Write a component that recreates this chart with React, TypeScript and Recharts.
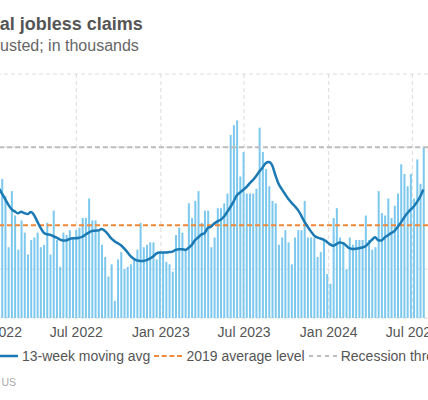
import { ComposedChart, Bar, Line, XAxis, YAxis, CartesianGrid, ReferenceLine } from 'recharts';

const WEEK = 7 * 24 * 60 * 60 * 1000;
const FIRST_WEEK = Date.UTC(2022, 0, 13);

// weekly initial claims, thousands
const weeklyClaims = [
  245, 237, 230, 209, 232, 222, 208, 220, 215, 206,
  212, 213, 215, 209, 210, 219, 206, 224, 212, 201,
  215, 214, 216, 213, 216, 217, 221, 221, 229, 220,
  220, 216, 210, 205, 197, 202, 187, 204, 207, 200,
  201, 202, 204, 208, 219, 209, 210, 211, 211, 204,
  207, 207, 203, 202, 199, 214, 217, 215, 208, 227,
  221, 228, 232, 219, 224, 224, 209, 213, 225, 225,
  227, 231, 255, 259, 261, 238, 248, 231, 231, 231,
  233, 258, 248, 241, 234, 228, 227, 210, 213, 216,
  211, 202, 213, 216, 216, 228, 213, 213, 213, 205,
  207, 212, 198, 194, 221, 225, 213, 211, 200, 213,
  210, 212, 212, 212, 222, 212, 208, 209, 232, 223,
  222, 229, 221, 226, 231, 243, 239, 234, 239, 229,
  245, 235, 250,
];

// 13-week moving average
const movingAvg = [
  233.3, 231.1, 228.8, 226.5, 224.6, 223.7, 222.9, 223.5, 223.0, 222.6,
  223.4, 222.2, 219.6, 217.0, 215.0, 214.3, 214.1, 213.5, 212.9, 212.2,
  211.8, 211.8, 212.4, 212.7, 212.7, 212.9, 213.3, 214.2, 215.0, 215.7,
  215.8, 215.9, 216.5, 215.7, 214.3, 212.6, 211.5, 210.7, 209.8, 208.5,
  207.0, 205.4, 204.3, 203.6, 203.4, 203.4, 203.7, 204.4, 205.2, 206.4,
  206.8, 206.8, 206.8, 207.0, 207.2, 207.9, 208.2, 208.2, 207.9, 208.7,
  209.9, 211.8, 213.0, 214.2, 214.8, 216.9, 217.4, 218.7, 219.6, 220.3,
  221.5, 223.4, 225.4, 227.7, 230.2, 231.4, 232.5, 233.6, 235.2, 236.5,
  238.1, 240.0, 241.6, 243.4, 243.9, 242.6, 238.6, 235.0, 232.8, 230.8,
  228.9, 227.3, 225.9, 224.3, 222.1, 219.6, 217.5, 215.6, 213.9, 213.0,
  212.6, 212.1, 211.2, 210.2, 209.6, 210.3, 210.9, 210.7, 209.7, 208.6,
  208.3, 208.4, 208.6, 208.9, 209.4, 210.7, 212.0, 213.1, 211.9, 211.8,
  213.0, 213.9, 214.8, 215.6, 217.3, 219.1, 221.1, 222.9, 224.4, 225.7,
  227.5, 229.7, 232.7,
];

const tickDates = [
  Date.UTC(2022, 0, 1),
  Date.UTC(2022, 6, 1),
  Date.UTC(2023, 0, 1),
  Date.UTC(2023, 6, 1),
  Date.UTC(2024, 0, 1),
  Date.UTC(2024, 6, 1),
];
const tickLabels = ['Jan 2022', 'Jul 2022', 'Jan 2023', 'Jul 2023', 'Jan 2024', 'Jul 2024'];

const AVG_2019 = 218;
const RECESSION_LEVEL = 250;

const data = weeklyClaims.map((claims, i) => ({
  date: FIRST_WEEK + i * WEEK,
  claims,
  avg: movingAvg[i],
}));

const BAR_COLOR = '#7cc8ee';
const LINE_COLOR = '#1b79b3';
const ORANGE = '#f0883a';
const GRAY_LINE = '#bdbdbd';
const TEXT = '#555';

function LegendIcon({ kind }: { kind: 'bar' | 'line' | 'orange' | 'gray' }) {
  return (
    <svg width={28} height={16} style={{ flex: 'none' }}>
      {kind === 'bar' && <rect x={9} y={2} width={10} height={12} fill={BAR_COLOR} />}
      {kind === 'line' && <line x1={0} x2={28} y1={8} y2={8} stroke={LINE_COLOR} strokeWidth={2.5} />}
      {kind === 'orange' && (
        <line x1={0} x2={28} y1={8} y2={8} stroke={ORANGE} strokeWidth={2} strokeDasharray="5 2.7" />
      )}
      {kind === 'gray' && (
        <line x1={0} x2={28} y1={8} y2={8} stroke={GRAY_LINE} strokeWidth={2} strokeDasharray="4 4" />
      )}
    </svg>
  );
}

function LegendItem({ kind, label }: { kind: 'bar' | 'line' | 'orange' | 'gray'; label: string }) {
  return (
    <div style={{ display: 'flex', alignItems: 'center', marginRight: 4, whiteSpace: 'nowrap' }}>
      <LegendIcon kind={kind} />
      <span style={{ marginLeft: 4 }}>{label}</span>
    </div>
  );
}

export default function App() {
  return (
    <div
      style={{
        position: 'absolute',
        left: 0,
        top: 0,
        width: 428,
        height: 400,
        overflow: 'hidden',
        background: '#fff',
        fontFamily: '"Liberation Sans", Arial, sans-serif',
      }}
    >
      <svg width={428} height={60} style={{ position: 'absolute', left: 0, top: 0 }}>
        <text x={-99} y={30} fontSize={18} fontWeight="bold" fill="#555">
          Weekly initial jobless claims
        </text>
        <text x={-104} y={51} fontSize={16} fill="#666">
          Seasonally adjusted; in thousands
        </text>
      </svg>

      <div style={{ position: 'absolute', left: -17.31, top: 0 }}>
        <ComposedChart width={450} height={345} data={data} margin={{ top: 74, right: 0, bottom: 0, left: 0 }}>
          <CartesianGrid stroke="#dcdcdc" strokeDasharray="4 3" />
          <XAxis
            dataKey="date"
            type="number"
            domain={[Date.UTC(2021, 11, 10), Date.UTC(2024, 7, 15)]}
            ticks={tickDates}
            interval={0}
            tickFormatter={(v: number) => tickLabels[tickDates.indexOf(v)]}
            axisLine={false}
            tickLine={false}
            tickSize={6}
            tickMargin={3}
            height={27}
            tick={{ fill: TEXT, fontSize: 14 }}
          />
          <YAxis hide domain={[180, 280]} ticks={[200, 250]} allowDataOverflow />
          <Bar dataKey="claims" fill={BAR_COLOR} barSize={2} isAnimationActive={false} />
          <ReferenceLine y={AVG_2019} stroke={ORANGE} strokeWidth={2} strokeDasharray="5 3" />
          <ReferenceLine y={RECESSION_LEVEL} stroke={GRAY_LINE} strokeWidth={2} strokeDasharray="5 3" />
          <Line
            dataKey="avg"
            type="monotone"
            stroke={LINE_COLOR}
            strokeWidth={2.5}
            dot={false}
            isAnimationActive={false}
          />
        </ComposedChart>
      </div>

      <div
        style={{
          position: 'absolute',
          left: -10,
          top: 348,
          display: 'flex',
          alignItems: 'center',
          fontSize: 14,
          lineHeight: '16px',
          color: TEXT,
        }}
      >
        <div style={{ position: 'absolute', right: '100%', display: 'flex' }}>
          <LegendItem kind="bar" label="Initial claims" />
        </div>
        <LegendItem kind="line" label="13-week moving avg" />
        <LegendItem kind="orange" label="2019 average level" />
        <LegendItem kind="gray" label="Recession threshold" />
      </div>

      <svg width={428} height={400} style={{ position: 'absolute', left: 0, top: 0, pointerEvents: 'none' }}>
        <text x={16} y={386} textAnchor="end" fontSize={10.5} fill="#aaa">
          Source: Department of Labor, US
        </text>
      </svg>
    </div>
  );
}
